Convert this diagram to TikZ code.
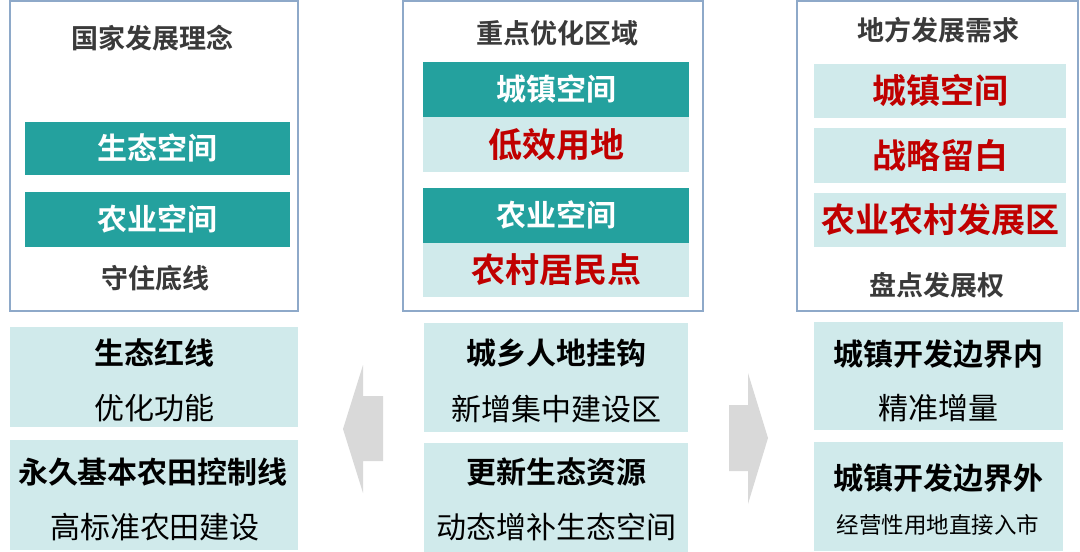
\documentclass[tikz,border=0pt]{standalone}
\usepackage{fontspec}
\setmainfont{Noto Sans CJK SC}[BoldFont={Noto Sans CJK SC Bold}]
\definecolor{teal1}{HTML}{24A19E}
\definecolor{light1}{HTML}{D0EAEB}
\definecolor{red1}{HTML}{C00000}
\definecolor{title1}{HTML}{3A3A3A}
\definecolor{frame1}{HTML}{8EA9C9}
\definecolor{arrow1}{HTML}{D9D9D9}
\tikzset{
  frame/.style={draw=frame1, line width=1.2pt, fill=white},
  txt/.style={inner sep=0pt, align=center},
  ttl/.style={txt, font=\bfseries\fontsize{27}{32}\selectfont, text=title1, text height=23.8pt, text depth=3.2pt},
  tealbox/.style={fill=teal1, draw=none},
  lightbox/.style={fill=light1, draw=none},
  whitetxt/.style={txt, font=\bfseries\fontsize{30}{36}\selectfont, text=white, text height=26.4pt, text depth=3.6pt},
  redtxt/.style={txt, font=\bfseries\fontsize{34}{40}\selectfont, text=red1, text height=29.9pt, text depth=4.1pt},
  boldtxt/.style={txt, font=\bfseries\fontsize{30}{36}\selectfont, text=black, text height=26.4pt, text depth=3.6pt},
  regtxt/.style={txt, font=\fontsize{30}{36}\selectfont, text=black, text height=26.4pt, text depth=3.6pt},
  smalltxt/.style={txt, font=\fontsize{22.5}{27}\selectfont, text=black, text height=19.8pt, text depth=2.7pt},
  bigarrow/.style={fill=arrow1, draw=none}
}
\begin{document}
\begin{tikzpicture}[x=1pt,y=-1pt]
\useasboundingbox (0,0) rectangle (1080,552);
% ---------- top frames ----------
\draw[frame] (10,1) rectangle (298,311);
\draw[frame] (403,1) rectangle (703,311);
\draw[frame] (797,1) rectangle (1078,311);
% left column top
\node[ttl] (t1) at (152,38) {国家发展理念};
\path[tealbox] (25,122) rectangle (290,175);
\node[whitetxt] (l1) at (157.5,148.5) {生态空间};
\path[tealbox] (25,192) rectangle (290,247);
\node[whitetxt] (l2) at (157.5,219.5) {农业空间};
\node[ttl] (l3) at (155,278) {守住底线};
% middle column top
\node[ttl] (t2) at (557,33) {重点优化区域};
\path[tealbox] (423,62) rectangle (689,117);
\node[whitetxt] (m1) at (556,89.5) {城镇空间};
\path[lightbox] (423,117) rectangle (689,172);
\node[redtxt] (m2) at (556,145) {低效用地};
\path[tealbox] (423,188) rectangle (689,243);
\node[whitetxt] (m3) at (556,215.5) {农业空间};
\path[lightbox] (423,243) rectangle (689,297);
\node[redtxt] (m4) at (556,270) {农村居民点};
% right column top
\node[ttl] (t3) at (938,30) {地方发展需求};
\path[lightbox] (814,64) rectangle (1066,118);
\node[redtxt] (r1) at (940,91) {城镇空间};
\path[lightbox] (814,128) rectangle (1066,183);
\node[redtxt] (r2) at (940,155.5) {战略留白};
\path[lightbox] (814,193) rectangle (1066,247);
\node[redtxt] (r3) at (940,220) {农业农村发展区};
\node[ttl] (r4) at (937,285) {盘点发展权};
% ---------- bottom boxes ----------
\path[lightbox] (10,327) rectangle (298,427);
\node[boldtxt] (lb1) at (154,353) {生态红线};
\node[regtxt] (lb2) at (154,408) {优化功能};
\path[lightbox] (10,440) rectangle (298,550);
\node[boldtxt] (lb3) at (153,472) {永久基本农田控制线};
\node[regtxt] (lb4) at (155,527) {高标准农田建设};
\path[lightbox] (424,323) rectangle (688,432);
\node[boldtxt] (mb1) at (556,353) {城乡人地挂钩};
\node[regtxt] (mb2) at (556,409) {新增集中建设区};
\path[lightbox] (424,443) rectangle (688,552);
\node[boldtxt] (mb3) at (556,472) {更新生态资源};
\node[regtxt] (mb4) at (556,527) {动态增补生态空间};
\path[lightbox] (814,322) rectangle (1063,430);
\node[boldtxt] (rb1) at (938,354) {城镇开发边界内};
\node[regtxt] (rb2) at (938,408) {精准增量};
\path[lightbox] (814,442) rectangle (1063,551);
\node[boldtxt] (rb3) at (938,478) {城镇开发边界外};
\node[smalltxt] (rb4) at (938,525) {经营性用地直接入市};
% ---------- big arrows ----------
\path[bigarrow] (383,396) -- (363,396) -- (363,365) -- (343,429) -- (363,493) -- (363,461) -- (383,461) -- cycle;
\path[bigarrow] (729,405) -- (748,405) -- (748,373) -- (768,438) -- (748,504) -- (748,471) -- (729,471) -- cycle;
\end{tikzpicture}
\end{document}
